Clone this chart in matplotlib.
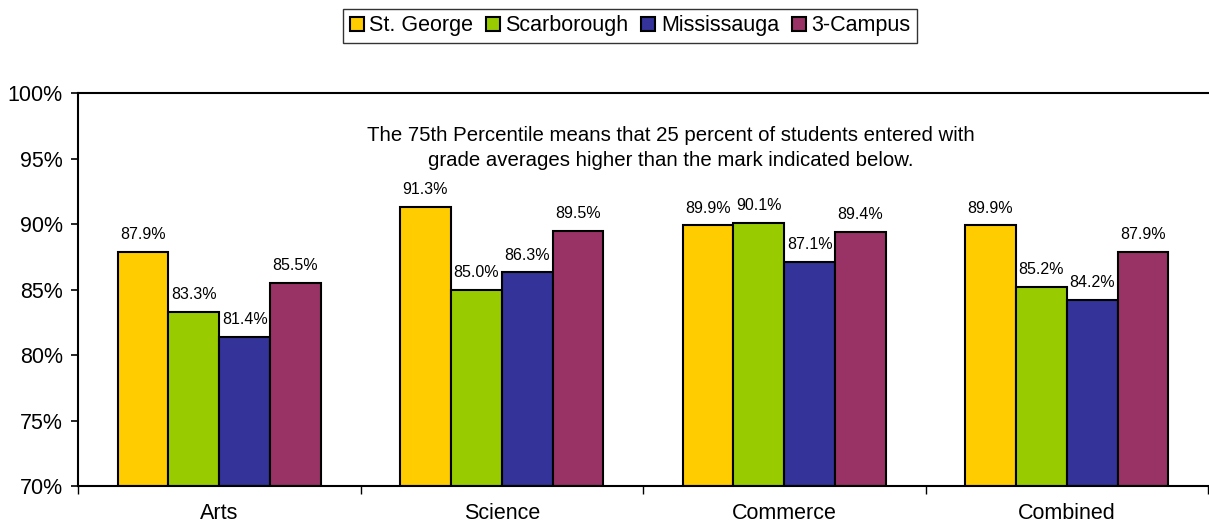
import matplotlib
matplotlib.use("Agg")
import matplotlib.pyplot as plt
import numpy as np

plt.rcParams['font.family'] = ['Liberation Sans', 'DejaVu Sans']

categories = ["Arts", "Science", "Commerce", "Combined"]
series_names = ["St. George", "Scarborough", "Mississauga", "3-Campus"]
st_george = [87.9, 91.3, 89.9, 89.9]
scarborough = [83.3, 85.0, 90.1, 85.2]
mississauga = [81.4, 86.3, 87.1, 84.2]
three_campus = [85.5, 89.5, 89.4, 87.9]
colors = ["#FFCC00", "#99CC00", "#333399", "#993366"]
yticks = [70, 75, 80, 85, 90, 95, 100]
note = ("The 75th Percentile means that 25 percent of students entered with\n"
        "grade averages higher than the mark indicated below.")

series = [st_george, scarborough, mississauga, three_campus]

fig = plt.figure(figsize=(12.09, 5.25), dpi=100)
W, H = 1209, 525
ax = fig.add_axes([78 / W, 1 - 486 / H, (1208 - 78) / W, (486 - 93) / H])

x = np.arange(len(categories))
bw = 0.18
for i, (vals, name, c) in enumerate(zip(series, series_names, colors)):
    pos = x + (i - 1.5) * bw
    ax.bar(pos, np.array(vals) - 70, bw, bottom=70, color=c,
           edgecolor="black", linewidth=1.5, label=name)
    for p, v in zip(pos, vals):
        ax.annotate(f"{v:.1f}%", (p, v), xytext=(0, 7), textcoords="offset points",
                    ha="center", va="bottom", fontsize=11.5)

ax.set_ylim(70, 100)
ax.set_xlim(-0.5, len(categories) - 0.5)
ax.set_yticks(yticks)
ax.set_yticklabels([f"{t}%" for t in yticks], fontsize=15.5)
ax.set_xticks(x)
ax.set_xticklabels(categories, fontsize=15.5)
ax.tick_params(axis='x', length=0, pad=12)
ax.set_xticks(np.arange(len(categories) + 1) - 0.5, minor=True)
ax.tick_params(axis='x', which='minor', length=6, width=1.0, direction='out')
ax.tick_params(axis='y', length=5, width=1.2, direction='out', pad=6)
for s in ['left', 'top', 'bottom']:
    ax.spines[s].set_linewidth(1.5)
ax.spines['right'].set_visible(False)

ax.text(671 / W, 1 - 148 / H, note, transform=fig.transFigure, ha="center",
        va="center", fontsize=14.7, linespacing=1.45)

leg = fig.legend(loc="center", bbox_to_anchor=(630 / W, 1 - 26 / H), ncol=4,
                 fontsize=15.5, frameon=True, fancybox=False, edgecolor="black",
                 handlelength=0.65, handleheight=0.65, handletextpad=0.25,
                 columnspacing=0.6, borderpad=0.3, borderaxespad=0)
leg.get_frame().set_linewidth(1.0)
for h in leg.legend_handles:
    h.set_linewidth(1.5)

fig.savefig("out.png", dpi=100)
